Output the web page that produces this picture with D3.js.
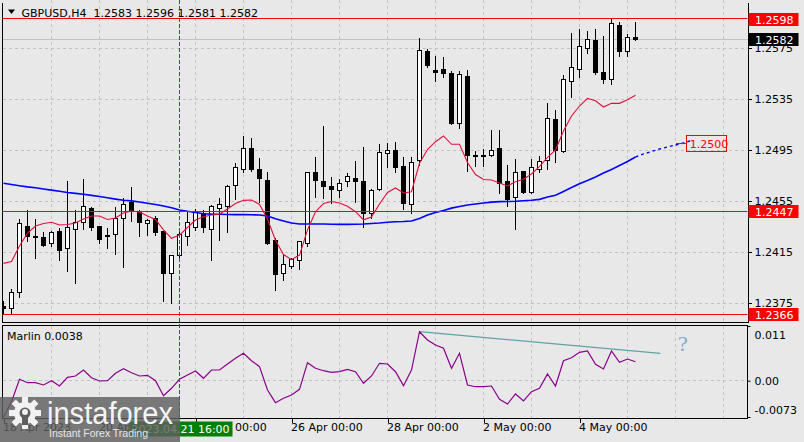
<!DOCTYPE html>
<html><head><meta charset="utf-8">
<script src="https://cdn.jsdelivr.net/npm/d3@7"></script>
<style>
body{margin:0;background:#e8e8e8;}
svg{display:block;font-family:"DejaVu Sans",sans-serif;}
</style>
</head><body>
<svg id="c" width="804" height="442"></svg>
<script>
// ---------- data ----------
const symbolTitle = "GBPUSD,H4";
const lastOHLC = ["1.2583","1.2596","1.2581","1.2582"];
const opens = [1.2372,1.2371,1.2383,1.2435,1.2427,1.2426,1.2422,1.2431,1.2418,1.2433,
1.2438,1.2449,1.2435,1.2428,1.2429,1.2441,1.2454,1.2447,1.2437,1.2441,
1.2431,1.2398,1.2412,1.2427,1.2434,1.2445,1.2433,1.2449,1.2451,1.2467,
1.2480,1.2496,1.2480,1.2471,1.2424,1.2398,1.2404,1.2408,1.2422,1.2477,
1.2470,1.2466,1.2463,1.2470,1.2473,1.2470,1.2445,1.2464,1.2492,1.2495,
1.2482,1.2452,1.2487,1.2572,1.2557,1.2558,1.2555,1.2516,1.2553,1.2491,
1.2491,1.2491,1.2496,1.2470,1.2458,1.2478,1.2462,1.2480,1.2487,1.2519,
1.2494,1.2549,1.2558,1.2575,1.2581,1.2556,1.2550,1.2593,1.2572,1.2583];
const highs = [1.2377,1.2386,1.2441,1.2448,1.2441,1.2431,1.2432,1.2434,1.2471,1.2448,
1.2473,1.2451,1.2435,1.2434,1.2451,1.2458,1.2466,1.2448,1.2441,1.2444,
1.2432,1.2413,1.2431,1.2447,1.2449,1.2448,1.2452,1.2458,1.2468,1.2485,
1.2506,1.2505,1.2489,1.2478,1.2426,1.2414,1.2411,1.2424,1.2478,1.2490,
1.2514,1.2474,1.2473,1.2477,1.2487,1.2498,1.2465,1.2500,1.2501,1.2502,
1.2490,1.2490,1.2583,1.2575,1.2569,1.2568,1.2557,1.2557,1.2558,1.2495,
1.2496,1.2511,1.2511,1.2484,1.2488,1.2479,1.2488,1.2491,1.2532,1.2527,
1.2554,1.2587,1.2590,1.2589,1.2590,1.2585,1.2598,1.2596,1.2586,1.2596];
const lows = [1.2366,1.2366,1.2379,1.2423,1.2410,1.2419,1.2419,1.2408,1.2400,1.2390,
1.2433,1.2432,1.2422,1.2418,1.2413,1.2403,1.2439,1.2427,1.2428,1.2428,
1.2376,1.2375,1.2411,1.2420,1.2432,1.2430,1.2408,1.2424,1.2430,1.2456,
1.2477,1.2478,1.2454,1.2421,1.2385,1.2393,1.2402,1.2401,1.2419,1.2458,
1.2457,1.2453,1.2458,1.2466,1.2454,1.2434,1.2441,1.2463,1.2481,1.2477,
1.2448,1.2445,1.2483,1.2560,1.2549,1.2552,1.2515,1.2512,1.2478,1.2482,
1.2482,1.2490,1.2461,1.2451,1.2433,1.2461,1.2461,1.2477,1.2480,1.2485,
1.2493,1.2536,1.2552,1.2571,1.2554,1.2547,1.2546,1.2568,1.2568,1.2581];
const closes = [1.2371,1.2383,1.2437,1.2427,1.2426,1.2420,1.2430,1.2416,1.2434,1.2438,
1.2451,1.2434,1.2425,1.2427,1.2441,1.2452,1.2447,1.2438,1.2440,1.2430,
1.2398,1.2412,1.2429,1.2438,1.2447,1.2434,1.2451,1.2452,1.2466,1.2481,
1.2496,1.2480,1.2473,1.2422,1.2397,1.2405,1.2409,1.2423,1.2477,1.2471,
1.2466,1.2464,1.2469,1.2474,1.2470,1.2445,1.2463,1.2493,1.2495,1.2481,
1.2453,1.2485,1.2573,1.2561,1.2556,1.2555,1.2516,1.2554,1.2491,1.2490,
1.2490,1.2495,1.2469,1.2456,1.2477,1.2462,1.2481,1.2486,1.2520,1.2495,
1.2550,1.2560,1.2576,1.2582,1.2556,1.2550,1.2594,1.2572,1.2583,1.2582];
const fastMA = [1.24061,1.24075,1.24197,1.24299,1.24354,1.24374,1.24383,1.24362,1.24366,1.24377,
1.24409,1.24432,1.24432,1.24405,1.24417,1.24456,1.24472,1.24464,1.24432,1.24405,
1.24323,1.24257,1.24283,1.24342,1.24401,1.24427,1.24440,1.24446,1.24487,1.24530,
1.24555,1.24558,1.24523,1.24409,1.24242,1.24130,1.24090,1.24126,1.24323,1.24466,
1.24530,1.24546,1.24534,1.24508,1.24466,1.24403,1.24425,1.24526,1.24617,1.24652,
1.24613,1.24623,1.24846,1.24954,1.25015,1.25060,1.24995,1.24995,1.24852,1.24758,
1.24719,1.24715,1.24691,1.24668,1.24701,1.24721,1.24762,1.24819,1.24893,1.24950,
1.25099,1.25217,1.25295,1.25355,1.25336,1.25287,1.25316,1.25316,1.25345,1.25379];
const slowMA = [1.24689,1.24679,1.24670,1.24661,1.24654,1.24644,1.24635,1.24626,1.24617,1.24610,
1.24603,1.24594,1.24585,1.24575,1.24565,1.24556,1.24551,1.24542,1.24533,1.24523,
1.24511,1.24497,1.24480,1.24469,1.24460,1.24450,1.24447,1.24446,1.24444,1.24443,
1.24443,1.24442,1.24440,1.24432,1.24410,1.24393,1.24377,1.24370,1.24370,1.24370,
1.24370,1.24368,1.24367,1.24367,1.24368,1.24370,1.24374,1.24377,1.24383,1.24387,
1.24389,1.24393,1.24413,1.24440,1.24460,1.24475,1.24494,1.24507,1.24519,1.24526,
1.24534,1.24541,1.24545,1.24546,1.24548,1.24552,1.24556,1.24563,1.24581,1.24595,
1.24625,1.24656,1.24685,1.24711,1.24738,1.24770,1.24797,1.24828,1.24860,1.24895];
const slowProjection = [1.24895,1.24919,1.24938,1.24958,1.24974,1.24989,1.25005,1.25025];
const marlin = [-0.0073,-0.00422,0.00028,-0.0004,-0.0004,-0.00086,0.0,-0.00107,0.00068,0.00095,
0.00215,0.0006,-0.00006,0.0,0.00149,0.00241,0.00161,0.00095,0.00109,0.0,
-0.00302,-0.00153,0.00028,0.00115,0.00195,0.00048,0.00215,0.00215,0.00336,0.0045,
0.00551,0.00402,0.00282,-0.00187,-0.00442,-0.00354,-0.00288,-0.00173,0.00362,0.00249,
0.00201,0.00169,0.00181,0.00229,0.00181,-0.00052,0.00095,0.0035,0.00336,0.00181,
-0.001,0.00215,0.00985,0.00818,0.00717,0.00652,0.00249,0.00551,-0.00086,-0.00121,
-0.00121,-0.00107,-0.00374,-0.00469,-0.00267,-0.00408,-0.00221,-0.00153,0.00135,-0.00107,
0.00402,0.00462,0.00571,0.00597,0.0033,0.00235,0.00597,0.0037,0.00436,0.0038];
const priceTicks = [1.2375,1.2415,1.2455,1.2495,1.2535,1.2575];
const levelLines = [1.2598,1.2447,1.2366];
const lastPrice = 1.2582;
const targetLabel = 1.2500;
const marlinTicks = [0.011,0.0,-0.0073];
const timeTickBars = [0,12,24,36,48,60,72];
const timeTickLabels = ["18 Apr 2023","20 Apr 2023","24 Apr 00:00","26 Apr 00:00","28 Apr 00:00","2 May 00:00","4 May 00:00"];
const cursorBar = 22;
const cursorLabel = "2023.04.21 16:00";
const trendFrom = {bar:52, value:0.00985};
const trendTo = {bar:82.1, value:0.0055};

// ---------- layout ----------
const svg = d3.select("#c");
const L = 2.5, R = 747.5, mainTop = 2.5, mainBot = 322.5, indTop = 325.5, indBot = 418.5;
const bg = "#e8e8e8", gridC = "#c2c2c2";

const x = d3.scaleLinear().domain([0,93]).range([3.5,747.5]);
const y = d3.scaleLinear().domain([1.2375,1.2575]).range([303,48]);
const yi = d3.scaleLinear().domain([-0.0073,0.011]).range([417,326]);
const snap = v => Math.round(v - 0.5) + 0.5;

svg.append("rect").attr("width",804).attr("height",442).attr("fill",bg);

const defs = svg.append("defs");
defs.append("clipPath").attr("id","cm").append("rect").attr("x",L).attr("y",0).attr("width",R-L).attr("height",mainBot);
defs.append("clipPath").attr("id","ci").append("rect").attr("x",L).attr("y",indTop).attr("width",R-L).attr("height",indBot-indTop);

// ---------- grid ----------
const gridBars = d3.range(6, 93, 6);
const gm = svg.append("g").attr("clip-path","url(#cm)").attr("shape-rendering","crispEdges");
gm.selectAll(".vg").data(gridBars).join("line")
  .attr("x1",d=>x(d)).attr("x2",d=>x(d)).attr("y1",0).attr("y2",mainBot)
  .attr("stroke",gridC).attr("stroke-dasharray","3,3");
gm.selectAll(".hg").data(priceTicks).join("line")
  .attr("x1",L).attr("x2",R).attr("y1",d=>snap(y(d))).attr("y2",d=>snap(y(d)))
  .attr("stroke",gridC).attr("stroke-dasharray","3,3");

const gi = svg.append("g").attr("clip-path","url(#ci)").attr("shape-rendering","crispEdges");
gi.selectAll("line.v").data(gridBars).join("line")
  .attr("x1",d=>x(d)).attr("x2",d=>x(d)).attr("y1",indTop).attr("y2",indBot)
  .attr("stroke",gridC).attr("stroke-dasharray","3,3");
gi.append("line").attr("x1",L).attr("x2",R).attr("y1",snap(yi(0))).attr("y2",snap(yi(0)))
  .attr("stroke",gridC).attr("stroke-dasharray","3,3");

// ---------- main panel ----------
const main = svg.append("g").attr("clip-path","url(#cm)");
main.append("line").attr("x1",L).attr("x2",R).attr("y1",snap(y(lastPrice))).attr("y2",snap(y(lastPrice)))
  .attr("stroke","#c0c0c0").attr("shape-rendering","crispEdges");

// candles
const idx = d3.range(opens.length);
const cg = main.append("g").attr("shape-rendering","crispEdges");
cg.selectAll("line.w").data(idx).join("line")
  .attr("x1",i=>x(i)).attr("x2",i=>x(i))
  .attr("y1",i=>snap(y(highs[i]))).attr("y2",i=>snap(y(lows[i])))
  .attr("stroke","#000");
cg.selectAll("path.b").data(idx).join("path")
  .attr("d",i=>{
    const t = snap(y(Math.max(opens[i],closes[i])));
    const b = snap(y(Math.min(opens[i],closes[i])));
    const x0 = x(i)-2, x1 = x(i)+2;
    return `M${x0},${t}H${x1}V${b}H${x0}Z`;
  })
  .attr("fill",i=>closes[i]>=opens[i] ? "#ffffff" : "#000000")
  .attr("stroke","#000");

// moving averages
const lineGen = d3.line().x((d,i)=>x(i)).y(d=>y(d));
main.append("path").datum(slowMA).attr("d",lineGen)
  .attr("fill","none").attr("stroke","#0000ff").attr("stroke-width",1.6);
main.append("path").datum(slowProjection)
  .attr("d",d3.line().x((d,i)=>x(i+79)).y(d=>y(d)))
  .attr("fill","none").attr("stroke","#0000ff").attr("stroke-width",1.4).attr("stroke-dasharray","3,3");
main.append("path").datum(fastMA).attr("d",lineGen)
  .attr("fill","none").attr("stroke","#e0103c").attr("stroke-width",1.1);

// level lines
main.selectAll("line.lv").data(levelLines).join("line")
  .attr("x1",L).attr("x2",R).attr("y1",d=>snap(y(d))).attr("y2",d=>snap(y(d)))
  .attr("stroke","#ff0000").attr("shape-rendering","crispEdges");

// target label
const ty = snap(y(targetLabel));
main.append("line").attr("x1",x(84)).attr("x2",x(85.4)).attr("y1",ty).attr("y2",ty)
  .attr("stroke","#ff0000").attr("shape-rendering","crispEdges");
main.append("rect").attr("x",x(85.4)).attr("y",ty-8).attr("width",40).attr("height",16)
  .attr("fill","none").attr("stroke","#ff0000").attr("shape-rendering","crispEdges");
main.append("text").attr("x",x(85.4)+3).attr("y",ty+4.5).attr("font-size",11)
  .attr("fill","#ff0000").text(d3.format(".4f")(targetLabel));

// header
svg.append("path").attr("d","M8,9.5L15,9.5L11.5,14Z").attr("fill","#000");
svg.append("text").attr("x",21.5).attr("y",17).attr("font-size",11).attr("fill","#000")
  .attr("xml:space","preserve")
  .text(symbolTitle + "  " + lastOHLC.join(" "));

// ---------- indicator panel ----------
const ind = svg.append("g").attr("clip-path","url(#ci)");
ind.append("line")
  .attr("x1",x(trendFrom.bar)).attr("y1",yi(trendFrom.value))
  .attr("x2",x(trendTo.bar)).attr("y2",yi(trendTo.value))
  .attr("stroke","#5fa3a3").attr("stroke-width",1.2);
ind.append("path").datum(marlin)
  .attr("d",d3.line().x((d,i)=>x(i)).y(d=>yi(d)))
  .attr("fill","none").attr("stroke","#8b008b").attr("stroke-width",1.2);
svg.append("text").attr("x",7).attr("y",340).attr("font-size",11).attr("fill","#000")
  .text("Marlin " + d3.format(".4f")(marlin[marlin.length-1]));
svg.append("text").attr("x",x(84.3)).attr("y",351).attr("font-size",22)
  .attr("font-family","'Liberation Serif',serif").attr("fill","#7eaacb").text("?");

// ---------- borders ----------
const bd = svg.append("g").attr("shape-rendering","crispEdges").attr("stroke","#000").attr("fill","none");
bd.append("line").attr("x1",L).attr("x2",L).attr("y1",mainTop).attr("y2",mainBot);
bd.append("line").attr("x1",L).attr("x2",R).attr("y1",mainBot).attr("y2",mainBot);
bd.append("rect").attr("x",L).attr("y",indTop).attr("width",R-L).attr("height",indBot-indTop);

// ---------- price axis ----------
const pa = svg.append("g").attr("transform",`translate(${R},0)`)
  .call(d3.axisRight(y).tickValues(priceTicks).tickSize(4).tickPadding(3).tickFormat(d3.format(".4f")));
pa.select(".domain").attr("d",`M0.5,${mainTop}V${mainBot}`).attr("stroke","#000").attr("shape-rendering","crispEdges");
pa.selectAll(".tick line").attr("stroke","#000").attr("shape-rendering","crispEdges");
pa.selectAll("text").attr("font-size",11).attr("font-family","DejaVu Sans").attr("fill","#000");

// level boxes on axis
const boxes = levelLines.map(v=>({v, fill:"#ff0000"})).concat([{v:lastPrice, fill:"#000000"}]);
const bx = svg.append("g").selectAll("g").data(boxes).join("g");
bx.append("rect").attr("x",R+1).attr("y",d=>Math.round(y(d.v))-6).attr("width",50).attr("height",13)
  .attr("fill",d=>d.fill);
bx.append("text").attr("x",R+7.5).attr("y",d=>Math.round(y(d.v))+4.5).attr("font-size",11)
  .attr("fill","#fff").text(d=>d3.format(".4f")(d.v));

// indicator axis
const ia = svg.append("g").attr("transform",`translate(${R},0)`)
  .call(d3.axisRight(yi).tickValues(marlinTicks).tickSize(3).tickPadding(4)
    .tickFormat(d=> d===0 ? "0.00" : String(d)));
ia.select(".domain").remove();
ia.selectAll(".tick line").attr("stroke","#000");
ia.selectAll("text").attr("font-size",11).attr("font-family","DejaVu Sans").attr("fill","#000")
  .attr("dy",d=> d===marlinTicks[0] ? "1.15em" : d===marlinTicks[2] ? "-0.35em" : "0.35em");

// ---------- time axis ----------
const ta = svg.append("g").attr("transform",`translate(0,${indBot})`)
  .call(d3.axisBottom(x).tickValues(timeTickBars).tickSize(4).tickPadding(3)
    .tickFormat((d,i)=>timeTickLabels[i]));
ta.select(".domain").remove();
ta.selectAll(".tick line").attr("stroke","#000").attr("shape-rendering","crispEdges");
ta.selectAll("text").attr("font-size",11).attr("font-family","DejaVu Sans").attr("fill","#000")
  .attr("text-anchor","start").attr("dx",-1).attr("y",4).attr("dy","0.8em");

// cursor line + label
svg.append("line").attr("x1",x(cursorBar)).attr("x2",x(cursorBar)).attr("y1",0).attr("y2",indBot)
  .attr("stroke","#008000").attr("stroke-dasharray","4,2").attr("shape-rendering","crispEdges");
svg.append("rect").attr("x",x(cursorBar)-51).attr("y",421.5).attr("width",104).attr("height",15)
  .attr("fill","#008000");
svg.append("text").attr("x",x(cursorBar)+1).attr("y",433).attr("text-anchor","middle")
  .attr("font-size",11).attr("fill","#fff").text(cursorLabel);

// ---------- watermark ----------
const wm = svg.append("g");
wm.append("rect").attr("x",0).attr("y",397).attr("width",180).attr("height",45)
  .attr("fill","rgba(95,95,95,0.82)");
const gear = wm.append("g").attr("transform","translate(25,413)").attr("fill","#f2f2f2");
d3.range(8).forEach(k=>{
  gear.append("rect").attr("x",-3).attr("y",-16).attr("width",6).attr("height",7)
    .attr("transform",`rotate(${k*45})`);
});
gear.append("circle").attr("r",11);
gear.append("circle").attr("r",5.5).attr("fill","rgba(95,95,95,1)");
gear.append("rect").attr("x",-3).attr("y",-2).attr("width",6).attr("height",14).attr("fill","rgba(95,95,95,1)");
gear.append("circle").attr("cy",-1).attr("r",3).attr("fill","#f2f2f2");
wm.append("text").attr("x",47).attr("y",424).attr("font-size",31)
  .attr("font-family","'Liberation Sans',Arial,sans-serif").attr("fill","#f4f4f4")
  .attr("textLength",126).attr("lengthAdjust","spacingAndGlyphs").text("instaforex");
wm.append("text").attr("x",49).attr("y",437).attr("font-size",11)
  .attr("font-family","'Liberation Sans',Arial,sans-serif").attr("fill","#e6e6e6")
  .attr("textLength",99).attr("lengthAdjust","spacingAndGlyphs").text("Instant Forex Trading");
</script>
</body></html>
